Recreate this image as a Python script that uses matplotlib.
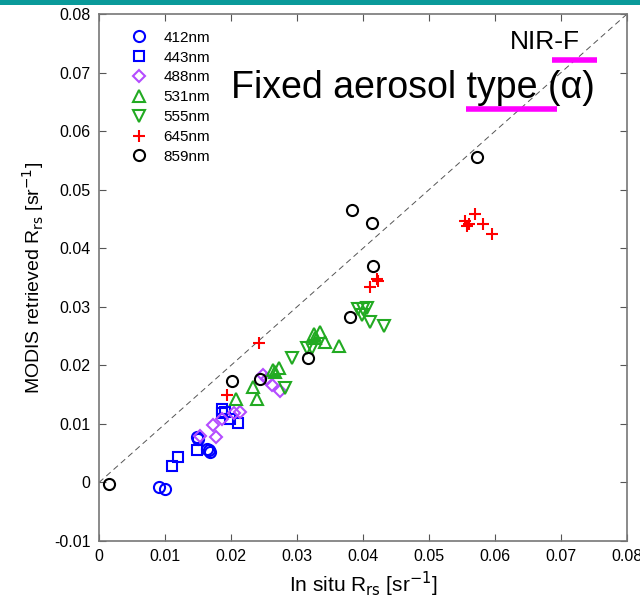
import matplotlib
matplotlib.use("Agg")
import matplotlib.pyplot as plt

plt.rcParams["font.family"] = ["Liberation Sans", "DejaVu Sans"]

# in situ / MODIS Rrs pairs per band
x412 = [0.0091, 0.0100, 0.0148, 0.0150, 0.0163, 0.0166, 0.0168]
y412 = [-0.0008, -0.0011, 0.0077, 0.0074, 0.0058, 0.0055, 0.0052]
x443 = [0.0111, 0.0120, 0.0148, 0.0187, 0.0191, 0.0198, 0.0211, 0.0186]
y443 = [0.0028, 0.0043, 0.0056, 0.0126, 0.0121, 0.0108, 0.0101, 0.0118]
x488 = [0.0153, 0.0172, 0.0178, 0.0187, 0.0205, 0.0213, 0.0249, 0.0254, 0.0262, 0.0274]
y488 = [0.0079, 0.0098, 0.0077, 0.0109, 0.0118, 0.0120, 0.0183, 0.0176, 0.0166, 0.0157]
x531 = [0.0207, 0.0239, 0.0234, 0.0264, 0.0267, 0.0272, 0.0325, 0.0327, 0.0335, 0.0342, 0.0363]
y531 = [0.0142, 0.0142, 0.0163, 0.0192, 0.0189, 0.0195, 0.0254, 0.0247, 0.0257, 0.0240, 0.0233]
x555 = [0.0282, 0.0293, 0.0315, 0.0322, 0.0393, 0.0400, 0.0406, 0.0398, 0.0411, 0.0432]
y555 = [0.0162, 0.0212, 0.0229, 0.0229, 0.0297, 0.0297, 0.0298, 0.0286, 0.0274, 0.0267]
x645 = [0.0194, 0.0243, 0.0411, 0.0421, 0.0423, 0.0555, 0.0558, 0.0560, 0.0570, 0.0582, 0.0596]
y645 = [0.0149, 0.0239, 0.0334, 0.0347, 0.0344, 0.0447, 0.0438, 0.0442, 0.0458, 0.0442, 0.0425]
x859 = [0.0015, 0.0202, 0.0244, 0.0316, 0.0380, 0.0383, 0.0413, 0.0415, 0.0573]
y859 = [-0.0002, 0.0173, 0.0176, 0.0213, 0.0282, 0.0465, 0.0443, 0.0369, 0.0555]

bands = ["412nm", "443nm", "488nm", "531nm", "555nm", "645nm", "859nm"]
xs = [x412, x443, x488, x531, x555, x645, x859]
ys = [y412, y443, y488, y531, y555, y645, y859]
markers = ["o", "s", "D", "^", "v", "+", "o"]
colors = ["#0000ff", "#0000ff", "#b44cff", "#22aa22", "#22aa22", "#ff0000", "#000000"]
sizes = [8, 7, 6, 8, 8, 9, 8]

fig = plt.figure(figsize=(6.4, 6.02), dpi=100)
ax = fig.add_axes([0.1547, 0.1013, 0.825, 0.8754])

# teal bar at the top of the slide
fig.add_artist(plt.Rectangle((0, 0.992), 1, 0.008, transform=fig.transFigure,
                             color="#0a9a9a", lw=0))

ax.plot([0, 0.08], [0, 0.08], ls=(0, (6, 4)), color="#555555", lw=0.7)

for x, y, m, c, s, lab in zip(xs, ys, markers, colors, sizes, bands):
    ax.plot(x, y, ls="none", marker=m, mfc="none", mec=c, ms=s, mew=1.5, label=lab)

ax.set_xlim(0, 0.08)
ax.set_ylim(-0.01, 0.08)
ax.set_xticks([0, 0.01, 0.02, 0.03, 0.04, 0.05, 0.06, 0.07, 0.08])
ax.set_xticklabels(["0", "0.01", "0.02", "0.03", "0.04", "0.05", "0.06", "0.07", "0.08"])
ax.set_yticks([-0.01, 0, 0.01, 0.02, 0.03, 0.04, 0.05, 0.06, 0.07, 0.08])
ax.set_yticklabels(["-0.01", "0", "0.01", "0.02", "0.03", "0.04", "0.05", "0.06", "0.07", "0.08"])
ax.tick_params(direction="in", top=True, right=True, length=5, color="#555555",
               labelsize=11.5, pad=6)
for sp in ax.spines.values():
    sp.set_color("#777777")
    sp.set_linewidth(1.2)

ax.set_xlabel(r"In situ R$_{\rm rs}$ [sr$^{-1}$]", fontsize=15, labelpad=4)
ax.set_ylabel(r"MODIS retrieved R$_{\rm rs}$ [sr$^{-1}$]", fontsize=14, labelpad=6)

ax.legend(loc="upper left", frameon=False, fontsize=11, handletextpad=0.6,
          labelspacing=0.38, borderaxespad=0.7, bbox_to_anchor=(0.015, 1.0))

ax.text(0.0200, 0.0656, "Fixed aerosol type (\u03b1)", fontsize=27,
        ha="left", va="baseline")
ax.text(0.0623, 0.0741, "NIR-F", fontsize=19, ha="left", va="baseline")
ax.plot([0.0556, 0.0694], [0.0638, 0.0638], color="#ff00ff", lw=4, solid_capstyle="butt")
ax.plot([0.0686, 0.0755], [0.0721, 0.0721], color="#ff00ff", lw=4, solid_capstyle="butt")

fig.savefig("out.png", dpi=100)
